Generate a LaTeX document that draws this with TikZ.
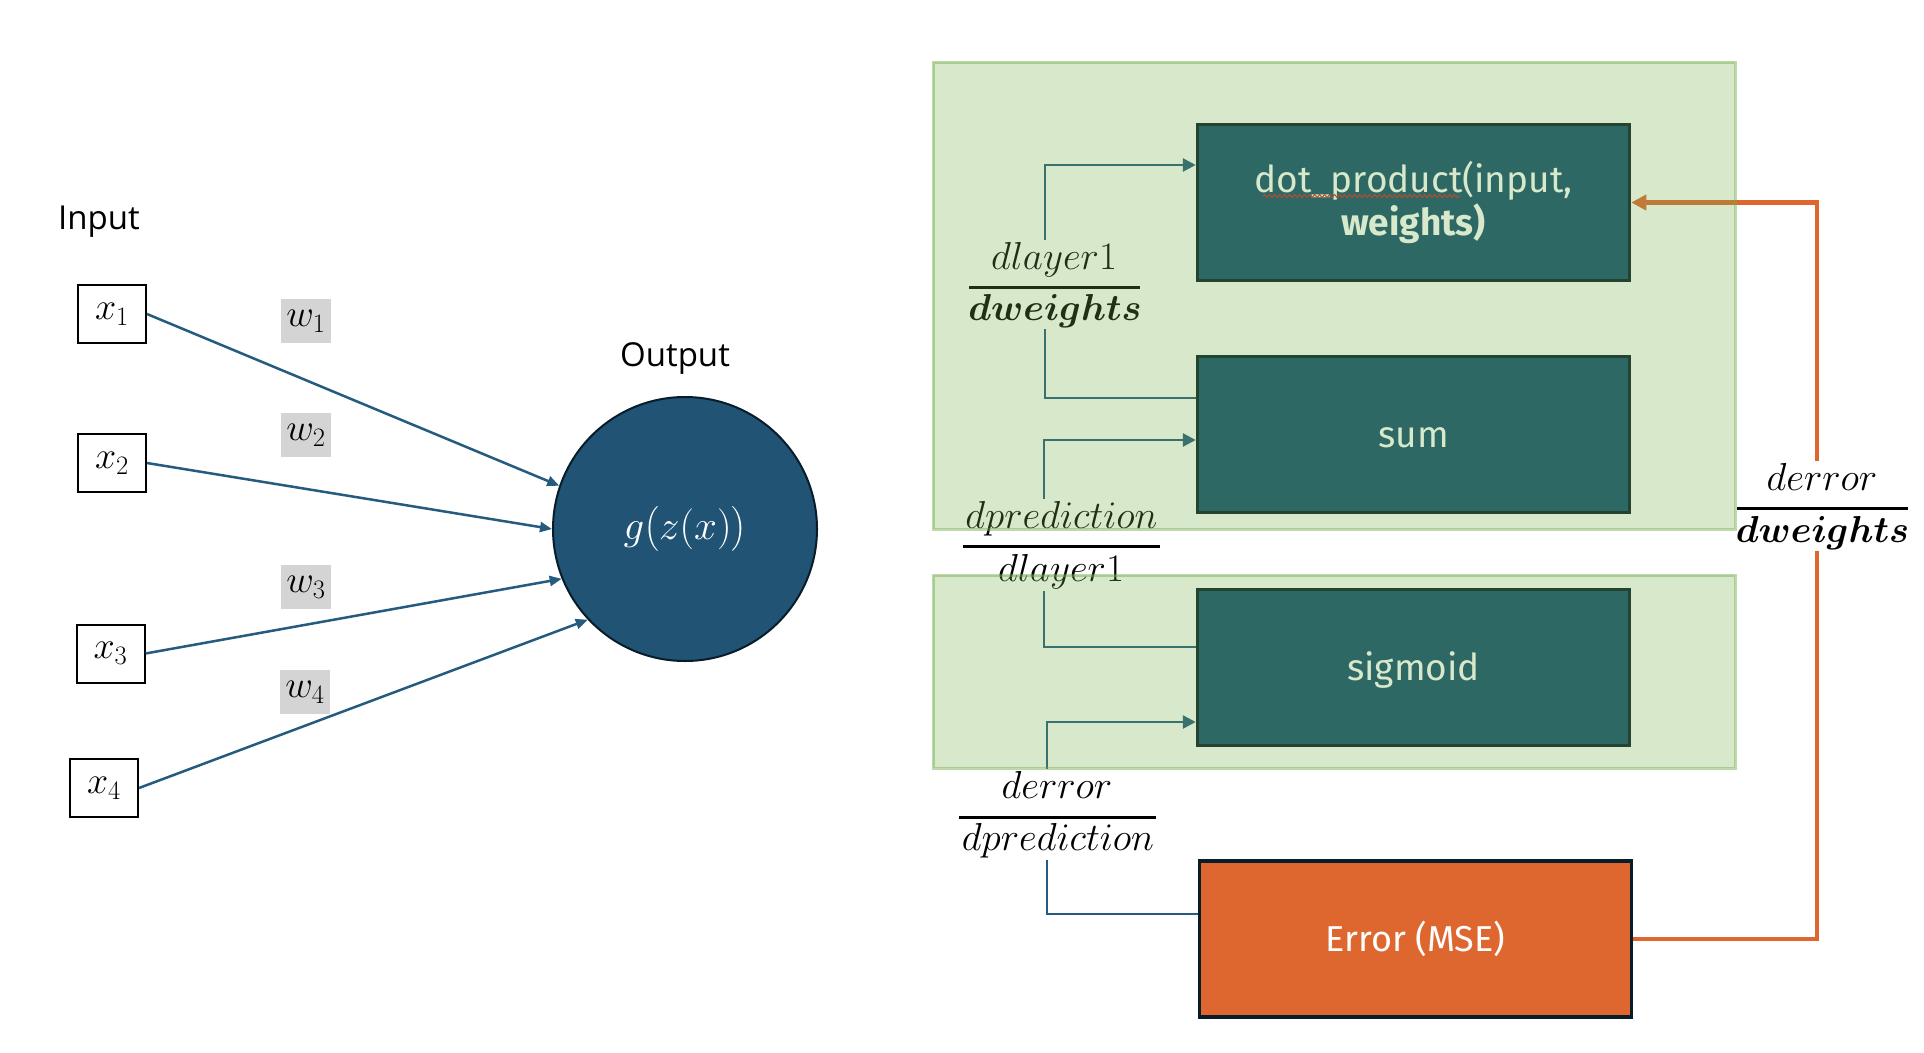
\RequirePackage{fix-cm}
\documentclass[tikz,border=0pt]{standalone}
\usepackage{fontspec}
\usepackage{amsmath}
\usepackage{bm}
\usetikzlibrary{arrows.meta,decorations.pathmorphing}
\newfontfamily\labelfont{Open Sans}
\newfontfamily\boxfont{Fira Sans}
\definecolor{nblue}{RGB}{32,83,116}
\definecolor{boxblue}{RGB}{20,78,112}
\definecolor{linkblue}{RGB}{36,91,126}
\definecolor{navy}{RGB}{8,28,42}
\definecolor{accgreen}{RGB}{112,173,71}
\definecolor{orng}{RGB}{222,103,48}
\definecolor{wgrey}{RGB}{212,212,212}
\definecolor{squigred}{RGB}{210,40,30}
\begin{document}
\begin{tikzpicture}[x=1pt,y=-1pt,
  title/.style={font=\labelfont\fontsize{33}{38}\selectfont, inner sep=0pt},
  inbox/.style={draw=black, line width=2pt, minimum width=68pt, minimum height=58pt, inner sep=0pt, font=\fontsize{38}{42}\selectfont},
  wlab/.style={fill=wgrey, minimum width=50pt, minimum height=44pt, inner sep=0pt, font=\fontsize{38}{42}\selectfont},
  neuron/.style={circle, fill=nblue, draw=navy, line width=2pt, minimum size=264pt, inner sep=0pt, text=white, font=\fontsize{41}{44}\selectfont},
  inarrow/.style={draw=linkblue, line width=2.5pt, -{Triangle[length=12pt,width=10pt]}},
  opbox/.style={rectangle, fill=boxblue, draw=navy, line width=3.5pt, minimum width=432pt, minimum height=156pt, inner sep=0pt, text=white, font=\boxfont\fontsize{37}{43}\selectfont, align=center},
  oneline/.style={opbox, text height=30pt, text depth=5pt},
  errbox/.style={opbox, fill=orng, font=\boxfont\fontsize{36}{43}\selectfont},
  link/.style={draw=linkblue, line width=2.7pt},
  linkarrow/.style={link, -{Triangle[length=13pt,width=13pt]}},
  backlink/.style={draw=orng, line width=4.5pt},
  backarrow/.style={backlink, -{Triangle[length=15pt,width=15pt]}},
  frtext/.style={font=\fontsize{39}{44}\selectfont, inner sep=2pt, anchor=base},
  frbold/.style={font=\fontsize{37.5}{44}\selectfont, inner sep=2pt, anchor=base},
  fbar/.style={draw=black, line width=3pt},
  squig/.style={draw=squigred, line width=1pt, decorate, decoration={snake, amplitude=1.5pt, segment length=5pt}},
  grp/.style={fill=accgreen, fill opacity=0.28, draw=accgreen, draw opacity=0.45, line width=3pt}
]
\fill[white] (0,0) rectangle (1924,1052);
\useasboundingbox (0,0) rectangle (1924,1052);

% ---------- left: perceptron ----------
\node[title, anchor=base west] (inlab) at (58,229) {Input};
\node[title, anchor=base] (outlab) at (675,366) {Output};

\node[inbox] (x1) at (112,314) {$x_1$};
\node[inbox] (x2) at (112,463) {$x_2$};
\node[inbox] (x3) at (110.5,653.5) {$x_3$};
\node[inbox] (x4) at (104,788) {$x_4$};

\node[wlab] (w1) at (306,321) {$w_1$};
\node[wlab] (w2) at (306,435) {$w_2$};
\node[wlab] (w3) at (306,587) {$w_3$};
\node[wlab] (w4) at (305,692) {$w_4$};

\node[neuron] (n) at (685,529) {$g\big(z(x)\big)$};

\draw[inarrow] (x1.east) -- (n.161);
\draw[inarrow] (x2.east) -- (n.180);
\draw[inarrow] (x3.east) -- (n.202);
\draw[inarrow] (x4.east) -- (n.223);

% ---------- right: backprop chain ----------
\node[opbox] (dot) at (1413.5,202.5) {dot\_product(input,\\\textbf{weights)}};
\node[oneline] (sum) at (1413.5,434.5) {sum};
\node[oneline] (sig) at (1413.5,667.5) {sigmoid};
\node[errbox] (err) at (1415.5,939) {Error (MSE)};

\draw[squig] (1263,196) -- (1460,196);

% fractions
\node[frtext] (f1n) at (1054,269) {$dlayer1$};
\node[frbold] (f1d) at (1055,320) {$\bm{dweights}$};
\draw[fbar] (969,287) -- (1140,287);

\node[frtext] (f2n) at (1061.5,528) {$dprediction$};
\node[frtext] (f2d) at (1061,581) {$dlayer1$};
\draw[fbar] (963,546) -- (1160,546);

\node[frtext] (f3n) at (1057,798) {$derror$};
\node[frtext] (f3d) at (1058,850) {$dprediction$};
\draw[fbar] (959,817) -- (1156,817);

\node[frtext] (f4n) at (1822,490) {$derror$};
\node[frbold] (f4d) at (1822.5,542) {$\bm{dweights}$};
\draw[fbar] (1737,508) -- (1908,508);

\coordinate (v1) at (1045,0);
\coordinate (v2) at (1044,0);
\coordinate (v3) at (1047,0);
\coordinate (v4) at (1817,0);

% connectors
\draw[backlink] (err.east) -| (f4d.south -| v4);
\draw[backarrow] (f4n.north -| v4) |- (dot.east);

\draw[link] ([yshift=36.5pt]sum.west) -| (f1d.south -| v1);
\draw[linkarrow] (f1n.north -| v1) |- ([yshift=37.5pt]dot.west);

\draw[link] ([yshift=20.5pt]sig.west) -| (f2d.south -| v2);
\draw[linkarrow] (f2n.north -| v2) |- ([yshift=-5.5pt]sum.west);

\draw[link] ([yshift=25pt]err.west) -| (f3d.south -| v3);
\draw[linkarrow] (f3n.north -| v3) |- ([yshift=-54.5pt]sig.west);

% translucent green groups on top
\path[grp] (933,62) rectangle (1735,529);
\path[grp] (933,575) rectangle (1735,768);
\end{tikzpicture}
\end{document}
